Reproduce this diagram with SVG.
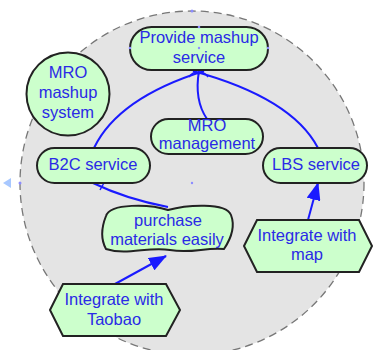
<svg xmlns="http://www.w3.org/2000/svg" width="373" height="350" viewBox="0 0 373 350">
<defs>
<style>
.node{fill:#ccffcc;stroke:#222;stroke-width:2}
.lbl{font-family:"Liberation Sans",Arial,sans-serif;font-size:16.5px;fill:#2a2ae6;text-anchor:middle}
.link{fill:none;stroke:#1a1aff;stroke-width:2}
.tick{stroke:#1a1aff;stroke-width:1.5;fill:none}
.dot{fill:#8c8cff}
</style>
<marker id="ah" markerUnits="userSpaceOnUse" markerWidth="18" markerHeight="14" refX="17" refY="7" orient="auto">
<path d="M0,0 L18,7 L0,14 Z" fill="#1a1aff"/>
</marker>
</defs>
<rect width="373" height="350" fill="#fff"/>
<g id="boundary">
<circle cx="192" cy="183" r="172" fill="#e4e4e4" stroke="#777" stroke-width="1.3" stroke-dasharray="8 5"/>
<path d="M3,183 L11,178 L11,188 Z" fill="#a8c8ff"/>
<circle class="dot" cx="20" cy="183" r="1.5"/>
<circle class="dot" cx="192" cy="183" r="1.2"/>
<circle class="dot" cx="192" cy="11" r="1.5"/>
</g>
<g id="connectors">
<path class="link" d="M94,148 Q118,98 204,71"/>
<path class="link" d="M318,148 Q292,98 193,71"/>
<path class="link" d="M207,119 Q194,100 199,71"/>
<path class="tick" d="M189,77 Q194,70 200,74"/>
<path class="tick" d="M197,74 Q203,70 208,77"/>
<path class="link" d="M168,207 Q126,199 93,183"/>
<path class="tick" d="M100,190 L105,181"/>
<line class="link" x1="115" y1="284" x2="166" y2="256" marker-end="url(#ah)"/>
<line class="link" x1="308" y1="220" x2="318" y2="183" marker-end="url(#ah)"/>
</g>
<g id="provide">
<rect class="node" x="130" y="27" width="138" height="43" rx="21.5"/>
<text class="lbl" x="199" y="43">Provide mashup</text>
<text class="lbl" x="199" y="63">service</text>
<circle class="dot" cx="199" cy="27" r="1.3"/>
<circle class="dot" cx="199" cy="48" r="1.2"/>
<circle class="dot" cx="130" cy="48" r="1.3"/>
<circle class="dot" cx="268" cy="48" r="1.3"/>
</g>
<g id="system">
<circle class="node" cx="68" cy="94" r="41.5"/>
<text class="lbl" x="68" y="78">MRO</text>
<text class="lbl" x="68" y="98">mashup</text>
<text class="lbl" x="68" y="118">system</text>
</g>
<g id="mro">
<rect class="node" x="151" y="119" width="112" height="35" rx="17.5"/>
<text class="lbl" x="207" y="131">MRO</text>
<text class="lbl" x="207" y="149">management</text>
</g>
<g id="b2c">
<rect class="node" x="37" y="148" width="113" height="35" rx="17.5"/>
<text class="lbl" x="93" y="170">B2C service</text>
</g>
<g id="lbs">
<rect class="node" x="263" y="148" width="104" height="35" rx="17.5"/>
<text class="lbl" x="316" y="170">LBS service</text>
</g>
<g id="purchase">
<path class="node" d="M106,216 C110,203 150,204 168,210 C186,205 226,202 231,215 C236,228 230,240 224,249 C205,247 192,254 170,250 C148,246 128,256 106,249 C100,238 102,226 106,216 Z"/>
<text class="lbl" x="168" y="226">purchase</text>
<text class="lbl" x="167" y="245">materials easily</text>
</g>
<g id="map">
<path class="node" d="M244,246 L257,220 L359,220 L372,246 L359,272 L257,272 Z"/>
<text class="lbl" x="307" y="241">Integrate with</text>
<text class="lbl" x="307" y="260">map</text>
</g>
<g id="taobao">
<path class="node" d="M50,310 L63,284 L166,284 L180,310 L166,336 L63,336 Z"/>
<text class="lbl" x="114" y="305">Integrate with</text>
<text class="lbl" x="114" y="325">Taobao</text>
</g>
</svg>
